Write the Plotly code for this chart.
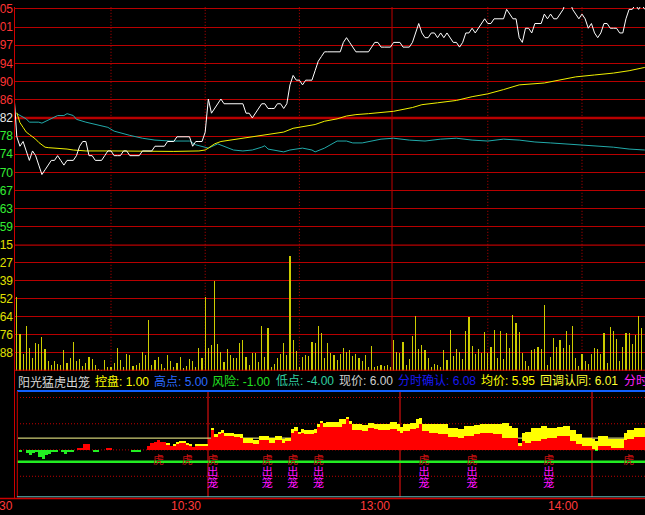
import plotly.graph_objects as go

# ---------------- data ----------------
PRE_CLOSE = 5.82
PRICE_STEP = 0.0385
VOL_STEP = 287.88

# white price line, one value per trading minute (index -1 = opening auction)
price_minutes = list(range(-1, 201))
price = [
    5.88, 5.78, 5.76, 5.77, 5.75, 5.73, 5.75, 5.74, 5.72, 5.70,
    5.71, 5.72, 5.73, 5.73, 5.74, 5.73, 5.72, 5.73, 5.73, 5.73,
    5.74, 5.76, 5.77, 5.77, 5.74, 5.74, 5.73, 5.73, 5.73, 5.74,
    5.75, 5.75, 5.74, 5.74, 5.74, 5.75, 5.75, 5.74, 5.74, 5.74,
    5.74, 5.75, 5.75, 5.75, 5.75, 5.76, 5.76, 5.76, 5.76, 5.77,
    5.77, 5.77, 5.78, 5.78, 5.78, 5.78, 5.78, 5.76, 5.77, 5.77,
    5.77, 5.79, 5.86, 5.83, 5.84, 5.85, 5.86, 5.85, 5.85, 5.85,
    5.85, 5.85, 5.85, 5.85, 5.83, 5.83, 5.82, 5.83, 5.84, 5.85,
    5.85, 5.84, 5.84, 5.84, 5.85, 5.85, 5.84, 5.85, 5.89, 5.91,
    5.90, 5.90, 5.89, 5.90, 5.90, 5.90, 5.92, 5.94, 5.95, 5.96,
    5.96, 5.96, 5.96, 5.96, 5.96, 5.98, 5.99, 5.98, 5.97, 5.96,
    5.96, 5.96, 5.96, 5.96, 5.97, 5.98, 5.98, 5.97, 5.97, 5.97,
    5.97, 5.98, 5.98, 5.98, 5.97, 5.97, 5.97, 5.98, 6.00, 6.02,
    6.00, 5.99, 5.99, 6.00, 6.00, 5.99, 6.00, 5.99, 6.00, 5.99,
    5.98, 5.98, 5.97, 5.98, 6.00, 6.00, 6.01, 6.00, 6.01, 6.02,
    6.03, 6.02, 6.02, 6.03, 6.03, 6.03, 6.03, 6.05, 6.04, 6.03,
    6.03, 5.99, 5.98, 6.01, 6.01, 6.00, 6.02, 6.02, 6.02, 6.04,
    6.03, 6.04, 6.03, 6.03, 6.04, 6.05, 6.07, 6.07, 6.05, 6.04,
    6.03, 6.04, 6.03, 6.01, 6.02, 6.00, 5.99, 6.00, 6.02, 6.02,
    6.01, 6.01, 6.01, 6.00, 6.00, 6.03, 6.05, 6.05, 6.06, 6.05,
    6.06, 6.05,
]

# yellow average-price line
avg_minutes = [0, 1, 2, 3, 4, 5, 6, 7, 8, 9, 10, 13, 16, 18, 22, 30, 40, 50, 58, 60,
               61, 63, 65, 70, 75, 80, 85, 88, 92, 95, 98, 102, 105, 108, 112, 116, 120, 126, 129, 134,
               140, 145, 150, 155, 160, 168, 173, 178, 184, 190, 195, 200]
avg_price = [5.831, 5.81, 5.80, 5.79, 5.785, 5.78, 5.775, 5.768, 5.763, 5.758,
             5.757, 5.756, 5.754, 5.752, 5.750, 5.750, 5.749, 5.749, 5.750, 5.752,
             5.756, 5.765, 5.770, 5.775, 5.780, 5.786, 5.790, 5.798, 5.802, 5.806,
             5.813, 5.818, 5.824, 5.827, 5.829, 5.831, 5.834, 5.842, 5.848, 5.852,
             5.857, 5.865, 5.871, 5.880, 5.890, 5.894, 5.901, 5.907, 5.911, 5.915,
             5.920, 5.927]

# cyan confirmation line
conf_minutes = [0, 1, 3, 4, 5, 7, 8, 10, 11, 13, 15, 16, 18, 19, 22, 26, 29, 31, 33, 36,
                40, 44, 49, 52, 55, 57, 61, 64, 67, 69, 72, 75, 78, 79, 80, 83, 85, 87, 89, 91,
                94, 95, 98, 100, 102, 105, 107, 110, 114, 116, 120, 125, 130, 135, 140, 145, 150, 155, 160, 165,
                170, 175, 180, 185, 190, 195, 200]
conf_price = [5.829, 5.825, 5.818, 5.811, 5.811, 5.811, 5.809, 5.815, 5.819, 5.825,
              5.825, 5.829, 5.825, 5.817, 5.811, 5.804, 5.800, 5.792, 5.788, 5.783,
              5.777, 5.773, 5.771, 5.771, 5.771, 5.763, 5.756, 5.765, 5.758, 5.752,
              5.750, 5.752, 5.758, 5.761, 5.754, 5.750, 5.748, 5.752, 5.754, 5.756,
              5.752, 5.748, 5.756, 5.763, 5.771, 5.771, 5.767, 5.767, 5.773, 5.775,
              5.777, 5.773, 5.771, 5.775, 5.777, 5.773, 5.771, 5.775, 5.773, 5.769,
              5.767, 5.765, 5.763, 5.761, 5.758, 5.754, 5.752]

# volume per minute (minute 0..199)
volume = [
    1181, 599, 268, 725, 378, 205, 457, 441, 551, 347,
    158, 95, 158, 110, 95, 331, 126, 205, 473, 158,
    189, 79, 126, 221, 189, 95, 32, 16, 173, 63,
    63, 126, 378, 173, 63, 268, 252, 79, 95, 126,
    299, 252, 819, 95, 173, 221, 110, 47, 252, 158,
    63, 126, 221, 47, 79, 189, 158, 63, 378, 205,
    1181, 378, 425, 1433, 441, 299, 142, 362, 252, 205,
    205, 457, 504, 221, 95, 284, 284, 142, 725, 221,
    693, 63, 110, 205, 268, 457, 252, 1843, 504, 315,
    63, 221, 252, 236, 473, 457, 725, 614, 205, 457,
    284, 252, 173, 268, 378, 299, 331, 236, 268, 205,
    158, 252, 63, 410, 63, 79, 95, 79, 95, 63,
    504, 299, 284, 473, 95, 189, 567, 882, 362, 425,
    331, 205, 63, 110, 95, 63, 331, 173, 662, 236,
    347, 299, 189, 646, 866, 410, 268, 347, 284, 630,
    284, 394, 662, 205, 646, 189, 614, 378, 898, 772,
    630, 284, 158, 79, 331, 347, 394, 347, 1055, 95,
    221, 536, 394, 504, 378, 646, 425, 725, 205, 79,
    268, 158, 110, 268, 378, 347, 268, 614, 126, 709,
    646, 520, 158, 394, 614, 614, 441, 583, 882, 693,
]

price_tick_labels = ["59", "63", "67", "70", "74", "78", "82", "86", "90", "94", "97", "01", "05"]
vol_tick_labels = ["88", "76", "64", "52", "39", "27", "15"]

# lower indicator (per minute 0..196): main strength and stacked top
osc_main = [
    0, -0.17, 0, -0.25, -0.45, -0.25, -0.2, -0.57, -0.74, -0.43,
    -0.34, -0.17, -0.17, 0, -0.17, -0.34, -0.17, -0.17, 0, 0.17,
    0.17, 0.5, 0.5, 0, -0.17, -0.17, 0, 0, 0.17, 0.17,
    0, 0, 0, 0, 0, 0, -0.17, -0.17, -0.17, 0,
    0, 0.34, 0.57, 0.68, 0.85, 0.68, 0.68, 0.48, 0.34, 0.40,
    0.53, 0.62, 0.62, 0.48, 0.40, 0.25, 0.40, 0.34, 0.34, 0.34,
    0.96, 1.70, 1.10, 1.33, 1.47, 1.18, 1.18, 1.18, 1.13, 1.13,
    1.04, 0.62, 0.62, 0.62, 0.48, 0.48, 0.82, 0.82, 0.82, 0.62,
    0.62, 0.82, 0.82, 0.62, 0.76, 0.76, 1.47, 1.61, 1.33, 1.47,
    1.38, 1.38, 1.38, 1.47, 1.95, 2.29, 1.96, 1.95, 1.95, 1.95,
    1.95, 1.98, 2.23, 2.60, 2.23, 1.67, 1.67, 1.67, 1.61, 1.61,
    1.84, 1.84, 1.76, 1.67, 1.67, 1.67, 1.67, 1.76, 1.76, 1.61,
    1.47, 1.61, 1.61, 1.76, 1.76, 1.90, 2.23, 1.61, 1.61, 1.47,
    1.47, 1.47, 1.38, 1.38, 1.38, 1.10, 1.10, 1.10, 1.04, 1.04,
    1.18, 1.18, 1.18, 1.38, 1.38, 1.47, 1.47, 1.47, 1.47, 1.33,
    1.33, 1.33, 1.04, 1.04, 0.98, 0.98, 0.98, 0.30, 0.76, 0.62,
    0.62, 0.76, 0.76, 0.76, 0.90, 0.90, 1.04, 1.04, 1.04, 1.18,
    1.18, 1.18, 1.18, 0.76, 0.76, 0.54, 0.54, 0.34, 0.34, 0.34,
    0.06, -0.10, 0.34, 0.34, 0.34, 0.34, 0.20, 0.20, 0.20, 0.20,
    0.82, 0.90, 0.90, 1.10, 1.10, 1.10, 1.10,
]
osc_top = [
    0, 0, 0, 0, 0, 0, 0, 0, 0, 0,
    0, 0, 0, 0, 0, 0, 0, 0, 0, 0.17,
    0.17, 0.5, 0.5, 0, 0, 0, 0, 0, 0.17, 0.17,
    0, 0, 0, 0, 0, 0, 0, 0, 0, 0,
    0, 0.34, 0.57, 0.68, 0.85, 0.68, 0.68, 0.57, 0.34, 0.48,
    0.62, 0.70, 0.70, 0.57, 0.45, 0.25, 0.45, 0.42, 0.42, 0.42,
    0.96, 1.90, 1.38, 1.55, 1.70, 1.47, 1.47, 1.47, 1.38, 1.38,
    1.38, 1.04, 1.04, 1.04, 0.82, 0.82, 1.18, 1.18, 1.18, 1.04,
    1.04, 1.18, 1.18, 0.90, 1.04, 1.04, 1.81, 1.95, 1.55, 1.76,
    1.67, 1.67, 1.67, 1.76, 2.17, 2.49, 2.29, 2.38, 2.38, 2.38,
    2.38, 2.60, 2.60, 2.80, 2.49, 2.17, 2.17, 2.17, 2.09, 2.09,
    2.29, 2.29, 2.21, 2.21, 2.21, 2.21, 2.21, 2.38, 2.38, 2.17,
    1.95, 2.17, 2.17, 2.29, 2.29, 2.60, 2.74, 2.17, 2.17, 2.21,
    2.21, 2.21, 2.21, 2.21, 2.21, 1.84, 1.84, 1.84, 1.76, 1.76,
    2.00, 2.00, 2.00, 2.10, 2.10, 2.21, 2.21, 2.21, 2.21, 2.17,
    2.17, 2.17, 2.29, 2.29, 2.00, 1.84, 1.84, 0.55, 1.47, 1.55,
    1.55, 1.84, 1.84, 1.84, 2.00, 2.00, 1.84, 1.84, 1.84, 1.95,
    1.95, 2.00, 2.00, 1.67, 1.67, 1.33, 1.33, 1.04, 1.04, 1.04,
    0.90, 0.76, 1.18, 1.18, 1.18, 0.90, 0.90, 0.90, 0.90, 0.90,
    1.47, 1.67, 1.67, 1.84, 1.84, 1.84, 1.84,
]
CONTROL_LEVEL = 1.0
RISK_LEVEL = -1.0
HIGH_LEVEL = 5.0
LOW_LEVEL = -4.0

tiger_minutes = [44, 53, 61, 78, 86, 94, 127, 142, 166, 191]
cage_minutes = [61, 78, 86, 94, 127, 142, 166]

time_labels = ["9:30", "10:30", "13:00", "14:00"]
time_label_minutes = [0, 60, 120, 180]

ind_name = "阳光猛虎出笼"
ind_labels = ["控盘", "高点", "风险", "低点", "现价", "分时确认", "均价", "回调认同", "分时"]
ind_values = ["1.00", "5.00", "-1.00", "-4.00", "6.00", "6.08", "5.95", "6.01", None]

# ---------------- layout helpers ----------------
W, H = 645, 515
ML, MB = 14, 18
PW, PH = W - ML, H - MB
RED = "#b80000"
FONT = "Liberation Sans, Arial, Noto Sans CJK SC"
CJK = "Noto Sans CJK SC, Liberation Sans"


def py(pix):
    return (PH - pix) / PH


def pxp(pix):
    return (pix - ML) / PW


PX_PER_MIN_UP, X0_UP = 3.14, 16.8
PX_PER_MIN_LO, X0_LO = 3.2, 17.6
PX_PER_STEP = 18.43
ppx = PRICE_STEP / PX_PER_STEP

price_grid = [PRE_CLOSE + k * PRICE_STEP for k in range(-6, 7)]
price_tick_colors = ["#33ee33"] * 6 + ["#e8e8e8"] + ["#ff3333"] * 6
price_ticktext = [f'<span style="color:{c}">{t}</span>' for t, c in zip(price_tick_labels, price_tick_colors)]
vol_grid = [VOL_STEP * k for k in range(1, 8)]

fig = go.Figure()

# volume (thin bars, snapped by plotly to whole pixels)
fig.add_trace(go.Bar(x=list(range(len(volume))), y=volume, width=0.05,
                     marker=dict(color="#cccc00", line=dict(width=0)),
                     xaxis="x", yaxis="y2", hoverinfo="skip"))
# price panel lines
fig.add_trace(go.Scatter(x=conf_minutes, y=conf_price, mode="lines",
                         line=dict(color="#22aaaa", width=1), xaxis="x", yaxis="y", hoverinfo="skip"))
fig.add_trace(go.Scatter(x=avg_minutes, y=avg_price, mode="lines",
                         line=dict(color="#f0f000", width=1), xaxis="x", yaxis="y", hoverinfo="skip"))
fig.add_trace(go.Scatter(x=price_minutes, y=price, mode="lines",
                         line=dict(color="#ffffff", width=1), xaxis="x", yaxis="y", hoverinfo="skip"))

# lower indicator bars
osc_x = list(range(len(osc_main)))
red_vals = [max(v, 0) for v in osc_main]
green_vals = [min(v, 0) for v in osc_main]
yellow_vals = [max(t - r, 0) for t, r in zip(osc_top, red_vals)]
fig.add_trace(go.Bar(x=osc_x, y=green_vals, width=1, marker=dict(color="#22ee22", line=dict(width=0)),
                     xaxis="x2", yaxis="y3", hoverinfo="skip"))
fig.add_trace(go.Bar(x=osc_x, y=red_vals, width=1, marker=dict(color="#ff0000", line=dict(width=0)),
                     xaxis="x2", yaxis="y3", hoverinfo="skip"))
fig.add_trace(go.Bar(x=osc_x, y=yellow_vals, base=red_vals, width=1,
                     marker=dict(color="#ffff00", line=dict(width=0)),
                     xaxis="x2", yaxis="y3", hoverinfo="skip"))

# tiger / cage signals
fig.add_trace(go.Scatter(x=tiger_minutes, y=[RISK_LEVEL] * len(tiger_minutes), mode="text", text="虎",
                         textfont=dict(color="#c81010", size=11, family=CJK),
                         xaxis="x2", yaxis="y3", hoverinfo="skip"))
fig.add_trace(go.Scatter(x=cage_minutes, y=[RISK_LEVEL - 1.0] * len(cage_minutes), mode="text", text="出",
                         textfont=dict(color="#ff10ff", size=11, family=CJK),
                         xaxis="x2", yaxis="y3", hoverinfo="skip"))
fig.add_trace(go.Scatter(x=cage_minutes, y=[RISK_LEVEL - 1.95] * len(cage_minutes), mode="text", text="笼",
                         textfont=dict(color="#ff10ff", size=11, family=CJK),
                         xaxis="x2", yaxis="y3", hoverinfo="skip"))

shapes = []
# thick horizontal lines
shapes.append(dict(type="line", xref="paper", x0=0, x1=1, yref="y", y0=PRE_CLOSE, y1=PRE_CLOSE,
                   line=dict(color=RED, width=2.5), layer="below"))
shapes.append(dict(type="line", xref="paper", x0=0, x1=1, yref="y2", y0=7 * VOL_STEP, y1=7 * VOL_STEP,
                   line=dict(color=RED, width=2.5), layer="below"))
shapes.append(dict(type="line", xref="paper", x0=0, x1=1, yref="y2", y0=0, y1=0,
                   line=dict(color="#cc0000", width=2), layer="above"))
# vertical dotted time lines (upper)
for m in [30, 60, 90, 150, 180]:
    shapes.append(dict(type="line", xref="x", x0=m, x1=m, yref="paper", y0=py(369), y1=1,
                       line=dict(color="#c00000", width=1, dash="1px,2px"), layer="below"))
shapes.append(dict(type="line", xref="x", x0=119.5, x1=119.5, yref="paper", y0=py(369), y1=1,
                   line=dict(color="#c00000", width=1), layer="below"))
# lower panel verticals
for m in [59.5, 119.5, 179.5]:
    shapes.append(dict(type="line", xref="x2", x0=m, x1=m, yref="paper", y0=0, y1=py(389.5),
                       line=dict(color="#ff1010", width=1), layer="below"))
# lower dotted horizontals
for v in [4.45, 2.22, 0, -2.24]:
    shapes.append(dict(type="line", xref="paper", x0=pxp(20), x1=1, yref="y3", y0=v, y1=v,
                       line=dict(color="#c00000", width=1, dash="1px,2px"), layer="below"))
shapes.append(dict(type="line", xref="paper", x0=pxp(18), x1=1, yref="y3", y0=CONTROL_LEVEL, y1=CONTROL_LEVEL,
                   line=dict(color="#ffff90", width=1), layer="below"))
shapes.append(dict(type="line", xref="paper", x0=pxp(17), x1=1, yref="y3", y0=RISK_LEVEL, y1=RISK_LEVEL,
                   line=dict(color="#22ee22", width=2.5), layer="below"))
# blue top border of lower panel
shapes.append(dict(type="line", xref="paper", x0=pxp(17), x1=1, yref="paper", y0=py(389.5), y1=py(389.5),
                   line=dict(color="#1060ff", width=2)))
# left borders
shapes.append(dict(type="line", xref="paper", x0=pxp(14.5), x1=pxp(14.5), yref="paper", y0=py(498), y1=1,
                   line=dict(color="#cc0000", width=1)))
shapes.append(dict(type="line", xref="paper", x0=pxp(17.3), x1=pxp(17.3), yref="paper", y0=py(497), y1=py(389.5),
                   line=dict(color="#cc0000", width=1)))
# bottom lines
shapes.append(dict(type="line", xref="paper", x0=pxp(17), x1=1, yref="paper", y0=py(496.8), y1=py(496.8),
                   line=dict(color="#60c8c8", width=1)))
shapes.append(dict(type="line", xref="paper", x0=pxp(0), x1=1, yref="paper", y0=py(498.6), y1=py(498.6),
                   line=dict(color="#cc0000", width=1.5)))

annotations = []
for lab, m in zip(time_labels, time_label_minutes):
    annotations.append(dict(text=lab, xref="x", x=m, yref="paper", y=py(506.5), xanchor="right", yanchor="middle",
                            xshift=-2, showarrow=False, font=dict(color="#ff3a3a", size=12, family=FONT)))

ind_x = [93, 152, 210, 274, 337, 396, 479, 538, 622]
ind_colors = ["#ffff00", "#2a6aff", "#22e022", "#30d0a0", "#cfcfcf", "#1818f0", "#ffff00", "#ffff30", "#ff20ff"]
annotations.append(dict(text=ind_name, xref="paper", x=pxp(16), yref="paper", y=py(379.5), xanchor="left",
                        yanchor="middle", showarrow=False, font=dict(color="#d8d8d8", size=12, family=CJK)))
for lab, val, x, c in zip(ind_labels, ind_values, ind_x, ind_colors):
    txt = lab if val is None else f"{lab}: {val}"
    annotations.append(dict(text=txt, xref="paper", x=pxp(x), yref="paper", y=py(379.5), xanchor="left",
                            yanchor="middle", showarrow=False, font=dict(color=c, size=12, family=FONT)))

fig.update_layout(
    width=W, height=H,
    margin=dict(l=ML, r=0, t=0, b=MB, pad=0),
    paper_bgcolor="#000000", plot_bgcolor="#000000",
    showlegend=False, barmode="overlay", bargap=0,
    shapes=shapes, annotations=annotations,
    xaxis=dict(domain=[0, 1], anchor="y2",
               range=[(14 - X0_UP) / PX_PER_MIN_UP, (645 - X0_UP) / PX_PER_MIN_UP],
               showgrid=False, zeroline=False, showticklabels=False, showline=False, ticks=""),
    xaxis2=dict(domain=[0, 1], anchor="y3",
                range=[(14 - X0_LO) / PX_PER_MIN_LO, (645 - X0_LO) / PX_PER_MIN_LO],
                showgrid=False, zeroline=False, showticklabels=False, showline=False, ticks=""),
    yaxis=dict(domain=[py(241), 1], anchor="x",
               range=[PRE_CLOSE - (241 - 112.5) * ppx, PRE_CLOSE + 112.5 * ppx],
               tickvals=price_grid, ticktext=price_ticktext, ticks="",
               tickfont=dict(size=12, family=FONT),
               showgrid=True, gridcolor=RED, gridwidth=1, zeroline=False, showline=False),
    yaxis2=dict(domain=[py(369), py(241)], anchor="x",
                range=[0, 7 * VOL_STEP],
                tickvals=vol_grid, ticktext=vol_tick_labels, ticks="",
                tickfont=dict(size=12, family=FONT, color="#e0e000"),
                showgrid=True, gridcolor=RED, gridwidth=1, zeroline=False, showline=False),
    yaxis3=dict(domain=[0, py(389.5)], anchor="x2",
                range=[LOW_LEVEL, HIGH_LEVEL],
                showgrid=False, zeroline=False, showticklabels=False, showline=False, ticks=""),
)

fig.write_html("out.html", config={"displayModeBar": False},
               post_script="document.body.style.margin='0';document.body.style.overflow='hidden';")
